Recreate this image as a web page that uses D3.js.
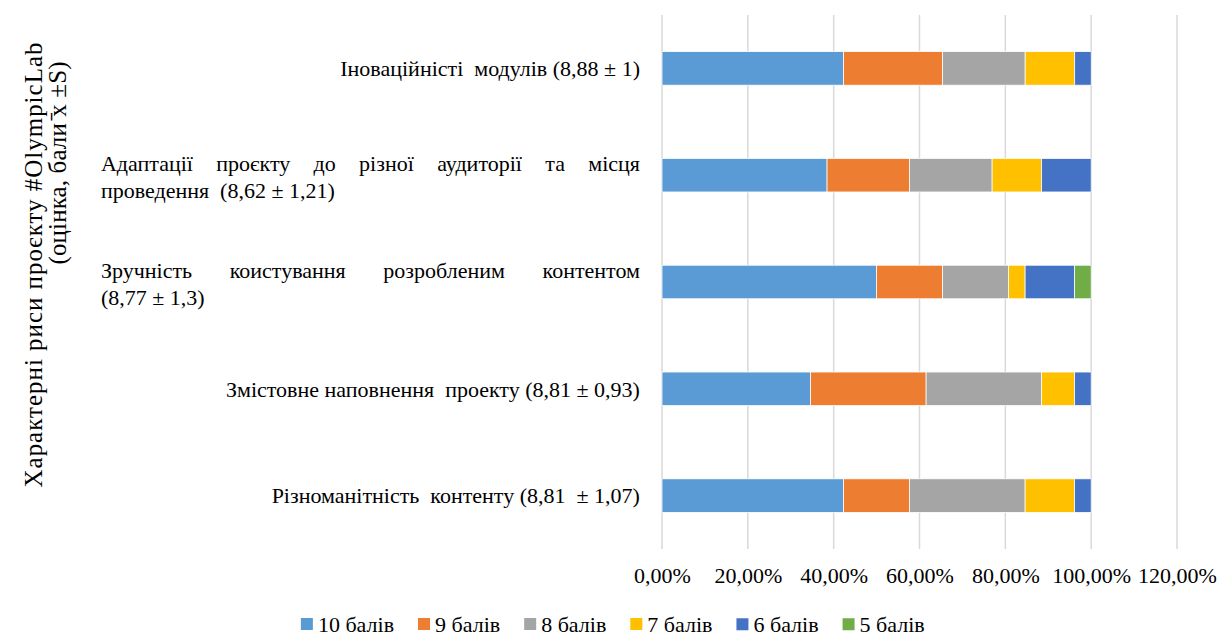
<!DOCTYPE html>
<html>
<head>
<meta charset="utf-8">
<script src="https://cdn.jsdelivr.net/npm/d3@7"></script>
</head>
<body style="margin:0">
<svg class="mainSvg" width="1221" height="640"></svg>
<script>
// categories top to bottom, "\n" = line break as in the original
var categories = [
  "Іноваційністі\u00a0 модулів (8,88 ± 1)",
  "Адаптації проєкту до різної аудиторії та місця\nпроведення\u00a0 (8,62 ± 1,21)",
  "Зручність коистування розробленим контентом\n(8,77 ± 1,3)",
  "Змістовне наповнення\u00a0 проекту (8,81 ± 0,93)",
  "Різноманітність\u00a0 контенту (8,81\u00a0 ± 1,07)"
];
var seriesNames = ["10 балів", "9 балів", "8 балів", "7 балів", "6 балів", "5 балів"];
var seriesColors = ["#5B9BD5", "#ED7D31", "#A5A5A5", "#FFC000", "#4472C4", "#70AD47"];

// percent per category (same order as categories)
var s10 = [42.31, 38.46, 50.00, 34.62, 42.31];
var s9  = [23.08, 19.23, 15.38, 26.92, 15.38];
var s8  = [19.23, 19.23, 15.38, 26.92, 26.92];
var s7  = [11.54, 11.54, 3.85, 7.69, 11.54];
var s6  = [3.85, 11.54, 11.54, 3.85, 3.85];
var s5  = [0, 0, 3.85, 0, 0];
var allSeries = [s10, s9, s8, s7, s6, s5];

var xTicks = [0, 20, 40, 60, 80, 100, 120];

var FONT = "Times New Roman";
var svg = d3.select(".mainSvg");
var fs = 22;
var TILT = "rotate(0.01)"; // tiny tilt, the serif font only shows up on transformed text here

function txt(parent) {
  return parent.append("text").attr("font-family", FONT)
    .attr("fill", "#000").attr("font-size", fs);
}

var x = d3.scaleLinear().domain([0, 120]).range([662, 1177]);
var y = d3.scaleBand().domain(categories).range([15, 549]).paddingInner(0.686).paddingOuter(0.343);

var loc = d3.formatLocale({decimal: ",", thousands: " ", grouping: [3], currency: ["", ""]});
var pct = loc.format(".2f");

// gridlines
svg.append("g").selectAll("line").data(xTicks).enter().append("line")
  .attr("x1", function(d){return x(d)}).attr("x2", function(d){return x(d)})
  .attr("y1", 15).attr("y2", 549)
  .attr("stroke", "#d9d9d9").attr("stroke-width", 1.5);

// stacked bars
var rows = categories.map(function(c, i){
  var acc = 0;
  return allSeries.map(function(s, k){
    var seg = {cat: c, k: k, x0: acc, x1: acc + s[i]};
    acc += s[i];
    return seg;
  });
});
var segs = [].concat.apply([], rows).filter(function(d){return d.x1 > d.x0});
svg.append("g").selectAll("rect").data(segs).enter().append("rect")
  .attr("x", function(d){return x(d.x0)})
  .attr("width", function(d){return x(d.x1) - x(d.x0)})
  .attr("y", function(d){return y(d.cat)})
  .attr("height", y.bandwidth())
  .attr("fill", function(d){return seriesColors[d.k]})
  .attr("stroke", "#fff").attr("stroke-width", 0.75);

// x axis labels
var xAxis = d3.axisBottom(x).tickValues(xTicks).tickSize(0).tickPadding(0)
  .tickFormat(function(d){return pct(d) + "%"});
var gx = svg.append("g").attr("transform", "translate(0,567) " + TILT).call(xAxis);
gx.attr("font-family", FONT).attr("font-size", fs);
gx.select(".domain").remove();
gx.selectAll("text").attr("font-family", FONT).attr("font-size", fs).attr("fill", "#000").attr("dy", "0.71em");

// category labels, right edge at 640, multi-line ones justified
var lab = svg.append("g").attr("transform", TILT);
var labelRight = 640, lineH = 27;
categories.forEach(function(c){
  var lines = c.split("\n");
  var cy = y(c) + y.bandwidth() / 2;
  var top = cy - (lines.length - 1) * lineH / 2 + 1.5;
  if (lines.length == 1) {
    txt(lab).attr("x", labelRight).attr("y", cy).attr("dy", "0.35em")
      .attr("text-anchor", "end").text(c);
    return;
  }
  var tmp = txt(lab);
  var widths = lines.map(function(l){ tmp.text(l); return tmp.node().getComputedTextLength(); });
  var left = Math.min(labelRight - d3.max(widths), 101);
  lines.forEach(function(l, li){
    var ly = top + li * lineH;
    if (li == lines.length - 1) {
      txt(lab).attr("x", left).attr("y", ly).attr("dy", "0.35em").text(l);
      return;
    }
    var words = l.split(/\s+/);
    var ww = words.map(function(w){ tmp.text(w); return tmp.node().getComputedTextLength(); });
    var gap = (labelRight - left - d3.sum(ww)) / (words.length - 1);
    var cx = left;
    words.forEach(function(w, wi){
      txt(lab).attr("x", cx).attr("y", ly).attr("dy", "0.35em").text(w);
      cx += ww[wi] + gap;
    });
  });
  tmp.remove();
});

// y axis title
var yt = svg.append("g").attr("transform", "rotate(-90)");
txt(yt).attr("x", -265).attr("y", 33).attr("dy", "0.35em")
  .attr("text-anchor", "middle").attr("font-size", 25)
  .attr("textLength", 445).attr("lengthAdjust", "spacing")
  .text("Характерні риси проєкту #OlympicLab");
txt(yt).attr("x", -163).attr("y", 57).attr("dy", "0.35em")
  .attr("text-anchor", "middle").attr("font-size", 25)
  .attr("textLength", 203).attr("lengthAdjust", "spacing")
  .text("(оцінка, бали \u0304x ±S)");

// legend
var lg = svg.append("g").attr("transform", TILT);
var lx = 301;
seriesNames.forEach(function(n, i){
  lg.append("rect").attr("x", lx).attr("y", 618).attr("width", 12).attr("height", 12)
    .attr("fill", seriesColors[i]);
  var t = txt(lg).attr("x", lx + 17).attr("y", 624).attr("dy", "0.35em").text(n);
  lx += 17 + t.node().getComputedTextLength() + 24;
});
</script>
</body>
</html>
